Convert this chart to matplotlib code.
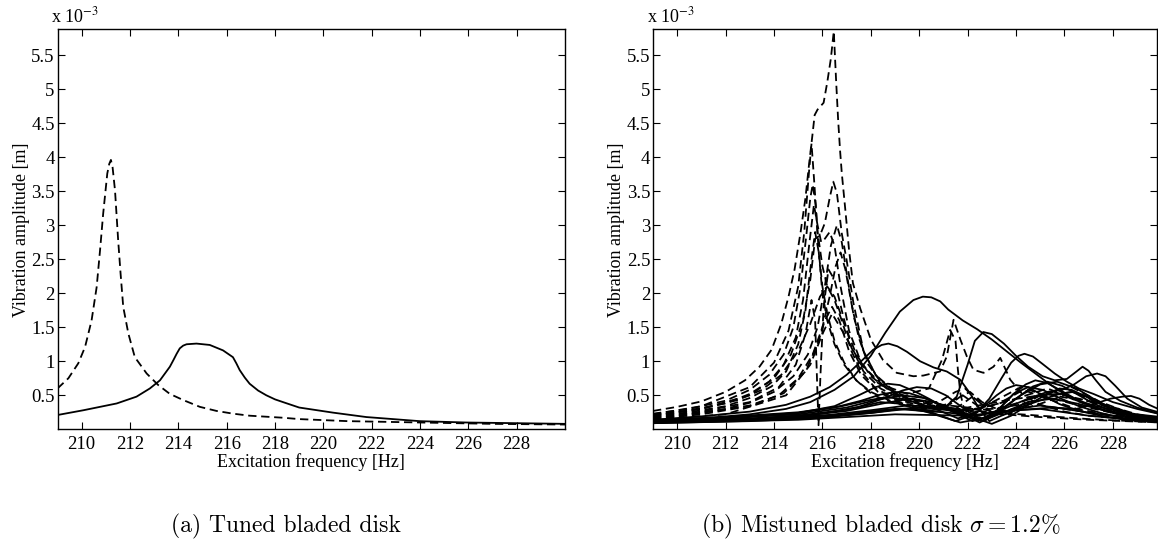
import matplotlib
matplotlib.use("Agg")
import matplotlib.pyplot as plt

# ---------------- data (amplitudes in units of 1e-3 m) ----------------
X_TICKS = [210, 212, 214, 216, 218, 220, 222, 224, 226, 228]
Y_TICKS = [0.5, 1, 1.5, 2, 2.5, 3, 3.5, 4, 4.5, 5, 5.5]
Y_TICK_LABELS = ["0.5", "1", "1.5", "2", "2.5", "3", "3.5", "4", "4.5", "5", "5.5"]

# (a) tuned
TUNED_DASH_F = [209.0, 209.45, 209.86, 210.14, 210.41, 210.62, 210.76, 210.89, 211.06, 211.14,
                211.21, 211.28, 211.38, 211.51, 211.61, 211.72, 211.93, 212.2, 212.69, 213.17,
                213.65, 214.2, 214.89, 215.58, 216.26, 216.95, 218.33, 219.0, 221.0, 224.0,
                227.0, 230.0]
TUNED_DASH_A = [0.60, 0.75, 0.97, 1.21, 1.60, 2.09, 2.63, 3.17, 3.76, 3.90,
                3.96, 3.85, 3.51, 2.78, 2.29, 1.80, 1.41, 1.06, 0.82, 0.65,
                0.52, 0.43, 0.33, 0.27, 0.23, 0.20, 0.17, 0.15, 0.12, 0.10,
                0.08, 0.07]
TUNED_SOLID_F = [209.0, 210.07, 211.45, 212.27, 212.82, 213.24, 213.65, 213.8, 213.93, 214.06,
                 214.2, 214.34, 214.75, 215.30, 215.85, 216.26, 216.4, 216.54, 216.75, 216.95,
                 217.3, 217.64, 218.0, 218.33, 219.0, 220.4, 221.78, 223.98, 225.9, 230.0]
TUNED_SOLID_A = [0.21, 0.28, 0.38, 0.48, 0.60, 0.72, 0.92, 1.02, 1.11, 1.19,
                 1.23, 1.25, 1.26, 1.24, 1.16, 1.06, 0.97, 0.87, 0.76, 0.67,
                 0.57, 0.50, 0.44, 0.40, 0.32, 0.245, 0.18, 0.12, 0.10, 0.08]

# (b) mistuned - dashed curves
D1_F = [209.0, 210.0, 211.0, 212.0, 212.8, 213.4, 213.9, 214.3, 214.6, 214.85, 215.1, 215.3, 215.45,
        215.58, 215.68, 215.8, 216.05, 216.2, 216.35, 216.47, 216.57, 216.65, 216.73, 216.8, 216.96,
        217.1, 217.26, 217.56, 218.0, 218.5, 219.07, 219.76, 220.17, 220.86, 221.14, 221.42, 221.7,
        221.97, 222.24, 222.66, 223.07, 223.35, 223.76, 224.3, 225.0, 226.0, 227.0, 228.0, 229.0, 230.0]
D1_A = [0.27, 0.33, 0.41, 0.55, 0.72, 0.92, 1.17, 1.55, 1.95, 2.35, 2.9, 3.4, 3.9,
        4.3, 4.62, 4.70, 4.8, 5.1, 5.45, 5.85, 5.1, 4.55, 4.1, 3.77, 3.18,
        2.64, 2.15, 1.78, 1.32, 1.02, 0.83, 0.78, 0.79, 0.85, 1.07, 1.61, 1.32,
        1.07, 0.875, 0.83, 0.92, 1.05, 0.73, 0.50, 0.36, 0.26, 0.20, 0.17, 0.15, 0.13]
D2_F = [209, 211, 213, 214, 214.6, 215.0, 215.25, 215.45, 215.55, 215.65, 215.8, 216.0, 216.2,
        216.5, 216.8, 217.2, 217.6, 218.2, 219, 220, 221, 222, 223.5, 225, 227, 230]
D2_A = [0.22, 0.34, 0.62, 0.98, 1.45, 2.1, 2.9, 3.8, 4.2, 3.7, 2.9, 2.4, 2.1,
        1.9, 1.6, 1.15, 0.85, 0.6, 0.45, 0.35, 0.3, 0.26, 0.22, 0.18, 0.14, 0.1]
D3_F = [209, 211, 213, 214, 214.7, 215.2, 215.5, 215.7, 215.9, 216.1, 216.3, 216.45, 216.6,
        216.8, 217.0, 217.28, 217.7, 218.2, 219, 220, 221.5, 223, 225, 227, 230]
D3_A = [0.2, 0.3, 0.5, 0.75, 1.1, 1.6, 2.2, 2.8, 2.85, 3.03, 3.4, 3.64, 3.47,
        2.88, 2.49, 1.86, 1.15, 0.8, 0.52, 0.38, 0.3, 0.25, 0.2, 0.15, 0.1]
D4_F = [209, 210.5, 212, 213, 213.8, 214.4, 214.8, 215.1, 215.35, 215.5, 215.6, 215.72, 215.85,
        216.0, 216.2, 216.5, 216.9, 217.4, 218.0, 218.8, 220, 221.5, 223, 224.5, 226, 228, 230]
D4_A = [0.23, 0.3, 0.42, 0.58, 0.8, 1.1, 1.5, 2.1, 2.9, 3.4, 3.6, 3.3, 2.6,
        2.0, 1.6, 1.25, 0.95, 0.72, 0.55, 0.42, 0.33, 0.28, 0.3, 0.38, 0.3, 0.2, 0.14]
D5_F = [209, 210.5, 212, 213, 213.8, 214.4, 214.9, 215.2, 215.45, 215.65, 215.8, 215.95, 216.1,
        216.3, 216.5, 216.75, 217.1, 217.6, 218.3, 219.2, 220.5, 222, 223.5, 225, 226.5, 228, 230]
D5_A = [0.21, 0.28, 0.38, 0.52, 0.7, 0.95, 1.35, 1.9, 2.7, 3.3, 3.0, 2.75, 2.8,
        2.9, 2.7, 2.1, 1.45, 0.98, 0.68, 0.5, 0.38, 0.32, 0.42, 0.5, 0.36, 0.24, 0.16]
D6_F = [209, 210.5, 212, 213, 213.9, 214.5, 215.0, 215.3, 215.55, 215.7, 215.85, 216.0, 216.2,
        216.5, 216.9, 217.4, 218.1, 219.0, 220, 221.0, 221.8, 222.6, 223.6, 224.6, 225.6, 227,
        228.5, 230]
D6_A = [0.19, 0.25, 0.34, 0.46, 0.63, 0.85, 1.25, 1.75, 2.5, 2.9, 2.6, 2.1, 1.7,
        1.3, 0.98, 0.72, 0.5, 0.38, 0.32, 0.35, 0.5, 0.3, 0.2, 0.45, 0.55, 0.35,
        0.2, 0.14]
D7_F = [209, 210.5, 212, 213, 214, 214.8, 215.4, 215.8, 216.1, 216.35, 216.6, 216.8, 217.0,
        217.3, 217.7, 218.2, 219, 220, 221, 222, 223, 224, 225.3, 226.4, 227.5, 229, 230]
D7_A = [0.17, 0.22, 0.3, 0.39, 0.55, 0.78, 1.1, 1.5, 2.1, 2.7, 3.0, 2.75, 2.3,
        1.65, 1.15, 0.8, 0.55, 0.4, 0.33, 0.28, 0.35, 0.45, 0.6, 0.45, 0.38, 0.22, 0.15]
D8_F = [209, 211, 213, 214.2, 215, 215.6, 216.0, 216.3, 216.55, 216.75, 216.95, 217.2, 217.5,
        217.9, 218.5, 219.3, 220.5, 221.5, 222.2, 223, 224, 225, 226.3, 227.5, 229, 230]
D8_A = [0.16, 0.24, 0.35, 0.5, 0.75, 1.1, 1.5, 1.95, 2.4, 2.6, 2.35, 1.85, 1.35,
        0.95, 0.65, 0.45, 0.32, 0.3, 0.48, 0.25, 0.3, 0.5, 0.62, 0.4, 0.2, 0.14]
D9_F = [209, 211, 213, 214.2, 214.9, 215.3, 215.55, 215.7, 215.78, 215.84, 215.92, 216.05, 216.25,
        216.5, 216.8, 217.2, 217.7, 218.4, 219.3, 220.3, 221.3, 222.3, 223.3, 224.3, 225.3, 226.5,
        228, 230]
D9_A = [0.18, 0.26, 0.4, 0.62, 0.95, 1.4, 1.9, 1.6, 0.7, 0.06, 0.8, 1.8, 2.35,
        2.2, 1.75, 1.2, 0.85, 0.6, 0.44, 0.34, 0.3, 0.3, 0.38, 0.58, 0.45, 0.3,
        0.2, 0.13]
D10_F = [209, 211, 212.5, 213.5, 214.3, 215.0, 215.5, 215.9, 216.2, 216.5, 216.9, 217.4, 218,
         218.8, 219.8, 220.8, 221.5, 221.9, 222.3, 223.2, 224.2, 225.2, 226.3, 227.5, 229, 230]
D10_A = [0.2, 0.3, 0.43, 0.58, 0.8, 1.15, 1.55, 1.95, 2.1, 1.95, 1.55, 1.1, 0.78,
         0.56, 0.42, 0.4, 0.55, 0.6, 0.45, 0.3, 0.4, 0.52, 0.45, 0.3, 0.18, 0.13]
D11_F = [209, 211, 213, 214.4, 215.3, 215.8, 216.1, 216.4, 216.7, 217.1, 217.6, 218.3, 219.2,
         220.2, 221.2, 221.7, 222.1, 222.6, 223.5, 224.8, 226, 227.2, 228.5, 230]
D11_A = [0.15, 0.22, 0.34, 0.53, 0.85, 1.25, 1.6, 1.8, 1.6, 1.15, 0.8, 0.55, 0.4,
         0.3, 0.35, 0.48, 0.55, 0.4, 0.25, 0.35, 0.5, 0.4, 0.24, 0.15]
D12_F = [209, 212, 214.5, 215.5, 216.0, 216.4, 216.9, 217.6, 218.5, 219.5, 220.4, 220.94, 221.28,
         221.5, 221.6, 221.7, 221.85, 222.1, 222.6, 223.3, 224.2, 225.2, 226.4, 227.6, 229, 230]
D12_A = [0.14, 0.22, 0.5, 0.95, 1.4, 1.7, 1.4, 0.95, 0.65, 0.52, 0.6, 1.02, 1.46,
         1.3, 0.87, 0.53, 0.3, 0.2, 0.32, 0.45, 0.62, 0.5, 0.55, 0.35, 0.2, 0.14]

# (b) mistuned - solid curves
S1_F = [209, 211, 213, 214.5, 215.5, 216.5, 217.3, 218.0, 218.6, 219.2, 219.76, 220.15, 220.5,
        220.87, 221.2, 221.8, 222.4, 223.0, 223.6, 224.2, 224.8, 225.4, 226.0, 226.6, 227.3,
        228.2, 229, 230]
S1_A = [0.12, 0.16, 0.22, 0.30, 0.40, 0.58, 0.78, 1.08, 1.42, 1.73, 1.90, 1.95, 1.94,
        1.88, 1.76, 1.60, 1.47, 1.32, 1.15, 0.98, 0.82, 0.66, 0.52, 0.42, 0.34,
        0.27, 0.22, 0.18]
S2_F = [209, 212, 215, 217, 218.5, 219.5, 220.5, 221.0, 221.55, 222.0, 222.3, 222.65, 223.0,
        223.5, 224.0, 224.5, 225.1, 225.6, 226.1, 226.5, 226.75, 227.0, 227.3, 227.7, 228.3,
        229, 230]
S2_A = [0.1, 0.13, 0.17, 0.22, 0.28, 0.3, 0.28, 0.3, 0.48, 0.95, 1.3, 1.43, 1.40,
        1.26, 1.08, 0.92, 0.78, 0.72, 0.74, 0.85, 0.92, 0.86, 0.72, 0.55, 0.42,
        0.32, 0.22]
S3_F = [209, 211, 213, 214.5, 215.5, 216.3, 217.0, 217.6, 218.1, 218.45, 218.73, 219.1, 219.49,
        220.04, 220.59, 221.14, 221.69, 222.1, 222.5, 222.9, 223.4, 224, 225, 226, 227, 228.5, 230]
S3_A = [0.14, 0.19, 0.26, 0.36, 0.48, 0.62, 0.80, 1.0, 1.17, 1.24, 1.26, 1.22, 1.14,
        1.00, 0.91, 0.85, 0.73, 0.53, 0.29, 0.12, 0.2, 0.28, 0.3, 0.25, 0.2, 0.15, 0.12]
S4_F = [209, 212, 215, 218, 219.5, 220.5, 221.5, 222.3, 222.9, 223.4, 223.8, 224.1, 224.35,
        224.7, 225.1, 225.6, 226.1, 226.6, 227.2, 228, 229, 230]
S4_A = [0.1, 0.12, 0.16, 0.24, 0.3, 0.25, 0.12, 0.22, 0.45, 0.75, 0.98, 1.08, 1.11,
        1.07, 0.96, 0.82, 0.7, 0.6, 0.52, 0.4, 0.3, 0.22]
S6_F = [209, 213, 217, 219, 221, 222.5, 223.5, 224.5, 225.3, 225.9, 226.4, 226.9, 227.35,
        227.7, 228.1, 228.6, 229.2, 230]
S6_A = [0.1, 0.15, 0.22, 0.3, 0.25, 0.2, 0.3, 0.45, 0.55, 0.58, 0.66, 0.78, 0.82,
        0.78, 0.64, 0.45, 0.32, 0.24]
S7_F = [209, 215, 219, 222, 224, 225.5, 226.5, 227.3, 227.9, 228.4, 228.75, 229.1, 229.5, 230]
S7_A = [0.09, 0.14, 0.22, 0.2, 0.28, 0.32, 0.3, 0.38, 0.45, 0.48, 0.49, 0.45, 0.36, 0.28]
S8_F = [209, 212, 215, 216.5, 217.5, 218.2, 218.7, 219.2, 219.8, 220.4, 221.0, 221.6, 222.2,
        223, 224, 225, 226, 227.5, 229, 230]
S8_A = [0.12, 0.16, 0.24, 0.34, 0.5, 0.62, 0.67, 0.65, 0.56, 0.45, 0.33, 0.22, 0.12,
        0.2, 0.3, 0.35, 0.3, 0.22, 0.16, 0.14]
S9_F = [209, 213, 216, 217.5, 218.5, 219.3, 219.9, 220.5, 221.1, 221.6, 222.1, 222.6, 223.5,
        224.5, 225.5, 226.5, 228, 230]
S9_A = [0.11, 0.15, 0.23, 0.33, 0.45, 0.57, 0.62, 0.6, 0.5, 0.37, 0.24, 0.12, 0.25,
        0.4, 0.45, 0.38, 0.25, 0.16]
S10_F = [209, 212, 215, 216.5, 217.6, 218.4, 219.0, 219.6, 220.3, 221.0, 221.8, 222.6, 223.3,
         223.9, 224.4, 224.8, 225.3, 225.9, 226.6, 227.4, 228.4, 230]
S10_A = [0.13, 0.17, 0.24, 0.32, 0.42, 0.51, 0.55, 0.53, 0.45, 0.33, 0.2, 0.12, 0.3,
         0.52, 0.66, 0.72, 0.68, 0.56, 0.42, 0.3, 0.2, 0.13]
S11_F = [209, 212, 215, 217, 218.2, 219.3, 220.2, 221.0, 221.8, 222.5, 223.2, 224.0, 224.7,
         225.3, 225.9, 226.5, 227.2, 228, 229, 230]
S11_A = [0.12, 0.16, 0.22, 0.32, 0.43, 0.5, 0.46, 0.35, 0.22, 0.1, 0.22, 0.45, 0.63,
         0.7, 0.64, 0.52, 0.38, 0.26, 0.17, 0.12]
S12_F = [209, 212, 215, 216.8, 217.8, 218.6, 219.3, 220.0, 220.8, 221.6, 222.4, 223.2, 223.6,
         224.0, 224.5, 225.1, 225.8, 226.6, 227.5, 228.5, 230]
S12_A = [0.14, 0.18, 0.25, 0.34, 0.42, 0.47, 0.45, 0.38, 0.28, 0.16, 0.25, 0.5, 0.6,
         0.65, 0.62, 0.5, 0.37, 0.27, 0.2, 0.14, 0.1]
S13_F = [209, 212, 215, 217, 218.5, 219.6, 220.6, 221.4, 222.2, 223.0, 223.8, 224.6, 225.3,
         225.8, 226.3, 226.9, 227.6, 228.4, 229.2, 230]
S13_A = [0.1, 0.13, 0.19, 0.27, 0.38, 0.45, 0.4, 0.3, 0.18, 0.08, 0.2, 0.38, 0.52,
         0.6, 0.58, 0.48, 0.35, 0.24, 0.16, 0.12]
S14_F = [209, 212, 215, 217, 217.8, 218.4, 219.1, 219.9, 220.8, 221.7, 222.6, 223.5, 224.4,
         225.2, 225.8, 226.3, 226.8, 227.4, 228.2, 229, 230]
S14_A = [0.11, 0.14, 0.2, 0.29, 0.35, 0.4, 0.38, 0.3, 0.2, 0.1, 0.16, 0.25, 0.35,
         0.45, 0.52, 0.55, 0.5, 0.4, 0.27, 0.18, 0.12]
S15_F = [209, 213, 216, 218, 219.2, 220.2, 221.2, 222.0, 222.7, 223.3, 223.9, 224.5, 225.1,
         225.8, 226.6, 227.5, 228.5, 230]
S15_A = [0.09, 0.12, 0.17, 0.24, 0.3, 0.32, 0.28, 0.2, 0.12, 0.3, 0.52, 0.62, 0.58,
         0.46, 0.34, 0.24, 0.16, 0.1]
S16_F = [209, 213, 216, 218, 219.5, 220.8, 221.8, 222.6, 223.4, 224.2, 225.0, 225.7, 226.5,
         227.2, 228, 229, 230]
S16_A = [0.1, 0.14, 0.2, 0.28, 0.35, 0.33, 0.25, 0.16, 0.3, 0.5, 0.66, 0.7, 0.6,
         0.45, 0.3, 0.2, 0.14]

DASHED_CURVES = [(D1_F, D1_A), (D2_F, D2_A), (D3_F, D3_A), (D4_F, D4_A), (D5_F, D5_A),
                 (D6_F, D6_A), (D7_F, D7_A), (D8_F, D8_A), (D9_F, D9_A), (D10_F, D10_A),
                 (D11_F, D11_A), (D12_F, D12_A)]
SOLID_CURVES = [(S1_F, S1_A), (S2_F, S2_A), (S3_F, S3_A), (S4_F, S4_A), (S6_F, S6_A),
                (S7_F, S7_A), (S8_F, S8_A), (S9_F, S9_A), (S10_F, S10_A), (S11_F, S11_A),
                (S12_F, S12_A), (S13_F, S13_A), (S14_F, S14_A), (S15_F, S15_A), (S16_F, S16_A)]
SCALE = 1e-3

# ---------------- figure ----------------
W, H = 1158, 545
fig = plt.figure(figsize=(W / 100, H / 100), dpi=100)
SERIF = ["Liberation Serif", "DejaVu Serif"]
TICK_FS = 13.5
LAB_FS = 13
LW = 1.3
DASH = (4.6, 2.6)


def px_axes(x0, x1, ytop, ybot):
    return fig.add_axes([x0 / W, (H - ybot) / H, (x1 - x0) / W, (ybot - ytop) / H])


def style(ax, xmax):
    ax.set_xlim(209, xmax)
    ax.set_ylim(0, 5.88e-3)
    ax.set_xticks(X_TICKS)
    ax.set_xticklabels([str(t) for t in X_TICKS], fontfamily=SERIF, fontsize=TICK_FS)
    ax.set_yticks([v * SCALE for v in Y_TICKS])
    ax.set_yticklabels(Y_TICK_LABELS, fontfamily=SERIF, fontsize=TICK_FS)
    ax.tick_params(direction="in", top=True, right=True, length=5, width=0.8)
    ax.tick_params(axis="x", pad=5)
    ax.tick_params(axis="y", pad=2)
    for s in ax.spines.values():
        s.set_linewidth(1.0)
    ax.set_xlabel("Excitation frequency [Hz]", fontfamily=SERIF, fontsize=LAB_FS, labelpad=0)
    ax.set_ylabel("Vibration amplitude [m]", fontfamily=SERIF, fontsize=LAB_FS, labelpad=1)
    ax.text(-0.012, 1.006, r"x 10$^{-3}$", transform=ax.transAxes, ha="left", va="bottom",
            fontfamily=SERIF, fontsize=LAB_FS, math_fontfamily="stix")


# (a)
ax1 = px_axes(57.5, 565, 29.3, 429.3)
ax1.plot(TUNED_DASH_F, [v * SCALE for v in TUNED_DASH_A], color="black", lw=LW,
         linestyle=(0, DASH))
ax1.plot(TUNED_SOLID_F, [v * SCALE for v in TUNED_SOLID_A], color="black", lw=LW)
style(ax1, 230)

# (b)
ax2 = px_axes(653, 1157, 29.3, 429.3)
for f, a in SOLID_CURVES:
    ax2.plot(f, [v * SCALE for v in a], color="black", lw=LW)
for f, a in DASHED_CURVES:
    ax2.plot(f, [v * SCALE for v in a], color="black", lw=LW, linestyle=(0, DASH))
style(ax2, 209 + 504 / 24.2)

# captions
fig.text(286 / W, 1 - 526 / H, "(a) Tuned bladed disk", ha="center", va="center",
         fontfamily="cmr10", fontsize=17)
fig.text(881 / W, 1 - 526 / H, r"(b) Mistuned bladed disk $\sigma = 1.2\%$", ha="center",
         va="center", fontfamily="cmr10", fontsize=17, math_fontfamily="cm")

fig.savefig("out.png", dpi=100)
